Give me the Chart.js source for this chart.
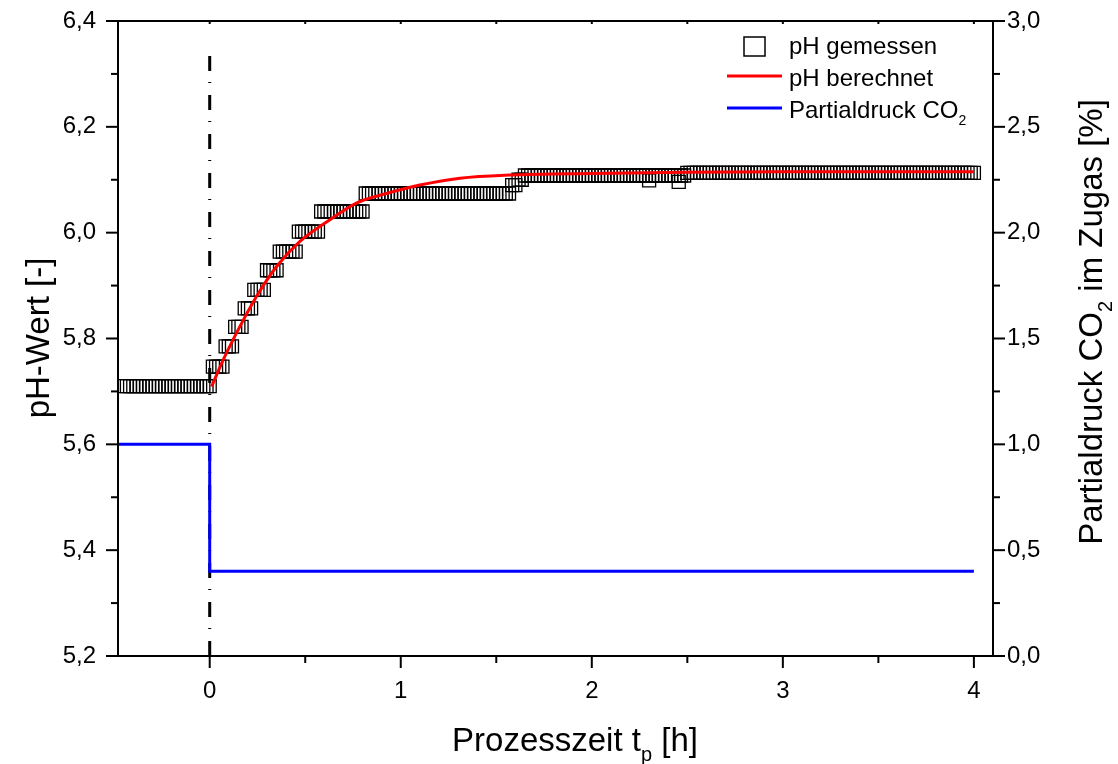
<!DOCTYPE html>
<html>
<head>
<meta charset="utf-8">
<title>pH-Verlauf</title>
<script src="https://cdn.jsdelivr.net/npm/chart.js@4.4.0/dist/chart.umd.min.js"></script>
<style>
  html, body { margin: 0; padding: 0; background: #fff; }
  #wrap { width: 1118px; height: 764px; position: relative; }
</style>
</head>
<body>
<div id="wrap"><canvas id="phChart"></canvas></div>
<script>
// ---- data ------------------------------------------------------------

// measured pH: reading is constant on plateaus, logged once per minute
const measuredStepTimes = [-0.45, 0.01, 0.075, 0.125, 0.17, 0.23, 0.29, 0.36, 0.46, 0.58, 0.81, 1.58, 1.61, 1.65, 2.5];
const measuredStepPH    = [5.71, 5.747, 5.785, 5.822, 5.857, 5.892, 5.929, 5.964, 6.002, 6.04, 6.074, 6.09, 6.10, 6.108, 6.113];
const measuredFirstMinute = -27;
const measuredLastMinute = 240;
// two single low readings
const outlierTimes = [2.30, 2.455];
const outlierPH    = [6.099, 6.096];

// calculated pH curve
const calcTimes = [0.01, 0.07, 0.157, 0.244, 0.35, 0.471, 0.628, 0.768, 0.925, 1.1, 1.31, 1.57, 2.0, 2.5, 3.0, 3.5, 4.0];
const calcPH    = [5.709, 5.759, 5.822, 5.879, 5.936, 5.983, 6.024, 6.056, 6.074, 6.090, 6.103, 6.109, 6.112, 6.114, 6.115, 6.115, 6.115];

// CO2 partial pressure in feed gas [%]
const co2Times  = [-0.48, 0, 0, 4.0];
const co2Values = [1.0, 1.0, 0.4, 0.4];

// vertical marker at t = 0
const markerTimes = [0, 0];
const markerPH    = [5.2, 6.345];

// axis ticks
const xTicks     = [0, 1, 2, 3, 4];
const xMinor     = [0.5, 1.5, 2.5, 3.5];
const phTicks    = [5.2, 5.4, 5.6, 5.8, 6.0, 6.2, 6.4];
const phMinor    = [5.3, 5.5, 5.7, 5.9, 6.1, 6.3];
const co2Ticks   = [0, 0.5, 1.0, 1.5, 2.0, 2.5, 3.0];
const co2Minor   = [0.25, 0.75, 1.25, 1.75, 2.25, 2.75];

// ---- helpers ------------------------------------------------------------

const FONT = '"Liberation Sans", Arial, Helvetica, sans-serif';
Chart.defaults.font.family = FONT;
Chart.defaults.color = "#000";

const TITLE_SIZE = 33;
const TICK_SIZE = 24;

const toPoints = (xs, ys) => xs.map((x, i) => ({ x, y: ys[i] }));

const stepValueAt = (t) => {
  let v = measuredStepPH[0];
  measuredStepTimes.forEach((start, i) => { if (t >= start - 1e-9) v = measuredStepPH[i]; });
  return v;
};

const buildMeasured = () => {
  const pts = [];
  for (let m = measuredFirstMinute; m <= measuredLastMinute; m++) {
    const t = m / 60;
    pts.push({ x: t, y: stepValueAt(t) });
  }
  outlierTimes.forEach((t, i) => {
    const m = Math.round(t * 60);
    const p = pts[m - measuredFirstMinute];
    if (p) { p.x = t; p.y = outlierPH[i]; }
  });
  return pts;
};

const commaLabel = (v) => v.toFixed(1).replace(".", ",");
const fixTicks = (list) => (scale) => { scale.ticks = list.map((value) => ({ value })); };
// fixed axis size, and no extra room for labels sitting on the plot edges
const fixSize = (prop, size) => (scale) => {
  scale[prop] = size;
  scale.paddingTop = 0;
  scale.paddingBottom = 0;
  scale.paddingLeft = 0;
  scale.paddingRight = 0;
};

// text with optional subscript parts, centred on (cx, cy)
const drawRichText = (ctx, parts, cx, cy, angle, size) => {
  ctx.save();
  ctx.translate(cx, cy);
  ctx.rotate(angle);
  const subSize = Math.round(size * 0.6);
  const fontOf = (p) => `${p.sub ? subSize : size}px ${FONT}`;
  const widths = parts.map((p) => { ctx.font = fontOf(p); return ctx.measureText(p.text).width; });
  let x = -widths.reduce((a, b) => a + b, 0) / 2;
  ctx.fillStyle = "#000";
  ctx.textAlign = "left";
  ctx.textBaseline = "alphabetic";
  parts.forEach((p, i) => {
    ctx.font = fontOf(p);
    ctx.fillText(p.text, x, size * 0.36 + (p.sub ? size * 0.3 : 0));
    x += widths[i];
  });
  ctx.restore();
};

const drawLeftText = (ctx, parts, x, baseline, size) => {
  const subSize = Math.round(size * 0.6);
  ctx.save();
  ctx.fillStyle = "#000";
  ctx.textAlign = "left";
  ctx.textBaseline = "alphabetic";
  parts.forEach((p) => {
    ctx.font = `${p.sub ? subSize : size}px ${FONT}`;
    ctx.fillText(p.text, x, baseline + (p.sub ? size * 0.3 : 0));
    x += ctx.measureText(p.text).width;
  });
  ctx.restore();
};

// frame, tick marks, axis titles and the inset legend
const decorPlugin = {
  id: "decor",
  afterDraw(chart) {
    const { ctx, chartArea: a, scales } = chart;
    const { x, yPH, yCO2 } = scales;
    ctx.save();
    ctx.strokeStyle = "#000";
    ctx.lineWidth = 2;
    ctx.lineCap = "butt";
    ctx.strokeRect(a.left, a.top, a.right - a.left, a.bottom - a.top);

    const line = (x1, y1, x2, y2) => { ctx.beginPath(); ctx.moveTo(x1, y1); ctx.lineTo(x2, y2); ctx.stroke(); };
    const MAJ = 12, MIN = 7;

    xTicks.forEach((v) => { const px = x.getPixelForValue(v); line(px, a.bottom, px, a.bottom + MAJ); line(px, a.top, px, a.top + 3); });
    xMinor.forEach((v) => { const px = x.getPixelForValue(v); line(px, a.bottom, px, a.bottom + MIN); line(px, a.top, px, a.top + 3); });
    phTicks.forEach((v) => { const py = yPH.getPixelForValue(v); line(a.left - MAJ, py, a.left, py); });
    phMinor.forEach((v) => { const py = yPH.getPixelForValue(v); line(a.left - MIN, py, a.left, py); });
    co2Ticks.forEach((v) => { const py = yCO2.getPixelForValue(v); line(a.right, py, a.right + MAJ, py); });
    co2Minor.forEach((v) => { const py = yCO2.getPixelForValue(v); line(a.right, py, a.right + MIN, py); });

    // axis titles
    drawRichText(ctx, [{ text: "Prozesszeit t" }, { text: "p", sub: true }, { text: " [h]" }], 575, 739, 0, TITLE_SIZE);
    drawRichText(ctx, [{ text: "pH-Wert [-]" }], 37, 338, -Math.PI / 2, TITLE_SIZE);
    drawRichText(ctx, [{ text: "Partialdruck CO" }, { text: "2", sub: true }, { text: " im Zugas [%]" }], 1090, 322, -Math.PI / 2, TITLE_SIZE);

    // legend
    ctx.lineWidth = 1.5;
    ctx.strokeRect(744, 37, 21, 19);
    ctx.lineWidth = 3;
    ctx.strokeStyle = "#ff0000";
    line(727, 76, 782, 76);
    ctx.strokeStyle = "#0000ff";
    line(727, 108, 782, 108);
    drawLeftText(ctx, [{ text: "pH gemessen" }], 789, 54, 24);
    drawLeftText(ctx, [{ text: "pH berechnet" }], 789, 86, 24);
    drawLeftText(ctx, [{ text: "Partialdruck CO" }, { text: "2", sub: true }], 789, 118, 24);
    ctx.restore();
  },
};

// ---- chart ----------------------------------------------------------------

const buildChartConfig = () => ({
  type: "line",
  data: {
    datasets: [
      {
        label: "Partialdruck CO2",
        data: toPoints(co2Times, co2Values),
        yAxisID: "yCO2",
        borderColor: "#0000ff",
        borderWidth: 3,
        pointRadius: 0,
        tension: 0,
        order: 0,
      },
      {
        label: "pH berechnet",
        data: toPoints(calcTimes, calcPH),
        yAxisID: "yPH",
        borderColor: "#ff0000",
        borderWidth: 3,
        pointRadius: 0,
        cubicInterpolationMode: "monotone",
        order: 1,
      },
      {
        label: "pH gemessen",
        data: buildMeasured(),
        yAxisID: "yPH",
        showLine: false,
        pointStyle: "rect",
        pointRadius: 9.2,
        borderColor: "#000",
        borderWidth: 1.3,
        backgroundColor: "rgba(0,0,0,0)",
        order: 2,
      },
      {
        label: "t = 0",
        data: toPoints(markerTimes, markerPH),
        yAxisID: "yPH",
        borderColor: "#000",
        borderWidth: 3,
        borderDash: [15, 12, 1, 11],
        pointRadius: 0,
        order: 3,
      },
    ],
  },
  options: {
    responsive: true,
    maintainAspectRatio: false,
    animation: false,
    layout: { padding: { top: 21, left: 0, right: 0, bottom: 0 } },
    plugins: { legend: { display: false }, tooltip: { enabled: false } },
    scales: {
      x: {
        type: "linear",
        min: -0.48,
        max: 4.1,
        grid: { display: false },
        border: { display: false },
        afterBuildTicks: fixTicks(xTicks),
        afterFit: fixSize("height", 108),
        ticks: { font: { size: TICK_SIZE }, padding: 13, maxRotation: 0, callback: (v) => String(v) },
      },
      yPH: {
        type: "linear",
        position: "left",
        min: 5.2,
        max: 6.4,
        grid: { display: false },
        border: { display: false },
        afterBuildTicks: fixTicks(phTicks),
        afterFit: fixSize("width", 118),
        ticks: { font: { size: TICK_SIZE }, padding: 14, callback: (v) => commaLabel(v) },
      },
      yCO2: {
        type: "linear",
        position: "right",
        min: 0,
        max: 3,
        grid: { display: false },
        border: { display: false },
        afterBuildTicks: fixTicks(co2Ticks),
        afterFit: fixSize("width", 125),
        ticks: { font: { size: TICK_SIZE }, padding: 6, callback: (v) => commaLabel(v) },
      },
    },
  },
  plugins: [decorPlugin],
});

new Chart(document.getElementById("phChart").getContext("2d"), buildChartConfig());
</script>
</body>
</html>
